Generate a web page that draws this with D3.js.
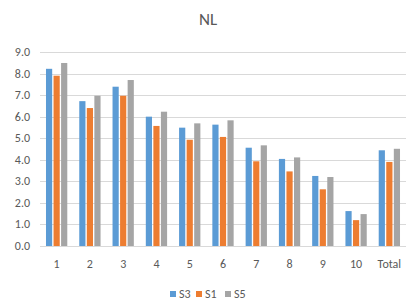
<!DOCTYPE html>
<html>
<head>
<meta charset="utf-8">
<script src="https://cdn.jsdelivr.net/npm/d3@7"></script>
<style>
  body { margin: 0; background: #fff; }
  svg { font-family: Calibri, Carlito, "Liberation Sans", "DejaVu Sans", sans-serif; }
</style>
</head>
<body>
<div id="chart"></div>
<script>
// data
let categories = ['1', '2', '3', '4', '5', '6', '7', '8', '9', '10', 'Total'];
let seriesNames = ['S3', 'S1', 'S5'];
let s3 = [8.22, 6.72, 7.39, 6.0, 5.49, 5.63, 4.56, 4.04, 3.25, 1.62, 4.44];
let s1 = [7.9, 6.4, 6.97, 5.57, 4.93, 5.06, 3.93, 3.46, 2.63, 1.2, 3.9];
let s5 = [8.49, 6.97, 7.7, 6.23, 5.69, 5.83, 4.67, 4.11, 3.2, 1.48, 4.51];
let yTicks = [0, 1, 2, 3, 4, 5, 6, 7, 8, 9];

let colors = ['#5B9BD5', '#ED7D31', '#A5A5A5'];
let width = 414, height = 301;
let margin = {left: 40, right: 8, top: 52, bottom: 55};

let svg = d3.select('#chart').append('svg')
  .attr('width', width).attr('height', height);

let x = d3.scaleBand().domain(categories)
  .range([margin.left, width - margin.right])
  .paddingInner(0.36).paddingOuter(0.18);
let xs = d3.scaleBand().domain(seriesNames).range([0, x.bandwidth()]).paddingInner(0.18);
let y = d3.scaleLinear().domain([0, 9]).range([height - margin.bottom, margin.top]);

// title
svg.append('text')
  .attr('x', 208).attr('y', 25)
  .attr('text-anchor', 'middle')
  .attr('fill', '#595959')
  .style('font-size', '17px')
  .text('NL');

// gridlines
svg.append('g')
  .selectAll('line')
  .data(yTicks)
  .join('line')
  .attr('x1', margin.left).attr('x2', width - margin.right)
  .attr('y1', d => Math.round(y(d)) + 0.5).attr('y2', d => Math.round(y(d)) + 0.5)
  .attr('stroke', '#D9D9D9').attr('stroke-width', 1);

// y labels
svg.append('g')
  .selectAll('text')
  .data(yTicks)
  .join('text')
  .attr('x', 30).attr('y', d => y(d) + 4)
  .attr('text-anchor', 'end')
  .attr('fill', '#595959')
  .style('font-size', '12px')
  .text(d => d.toFixed(1));

// bars
let series = [s3, s1, s5];
let bars = svg.append('g');
series.forEach((vals, si) => {
  bars.selectAll('.b' + si)
    .data(vals)
    .join('rect')
    .attr('class', 'b' + si)
    .attr('x', (d, i) => x(categories[i]) + xs(seriesNames[si]))
    .attr('width', xs.bandwidth())
    .attr('y', d => y(d))
    .attr('height', d => y(0) - y(d))
    .attr('fill', colors[si]);
});

// x labels
svg.append('g')
  .selectAll('text')
  .data(categories)
  .join('text')
  .attr('x', d => x(d) + x.bandwidth() / 2)
  .attr('y', height - margin.bottom + 22)
  .attr('text-anchor', 'middle')
  .attr('fill', '#595959')
  .style('font-size', '12px')
  .text(d => d);

// legend
let legendX = [170, 196, 225];
let legend = svg.append('g')
  .selectAll('g')
  .data(seriesNames)
  .join('g')
  .attr('transform', (d, i) => 'translate(' + legendX[i] + ',' + 294 + ')');
legend.append('rect')
  .attr('x', 0).attr('y', -3)
  .attr('width', 6).attr('height', 6)
  .attr('fill', (d, i) => colors[i]);
legend.append('text')
  .attr('x', 9).attr('y', 4)
  .attr('fill', '#595959')
  .style('font-size', '12px')
  .text(d => d);
</script>
</body>
</html>
